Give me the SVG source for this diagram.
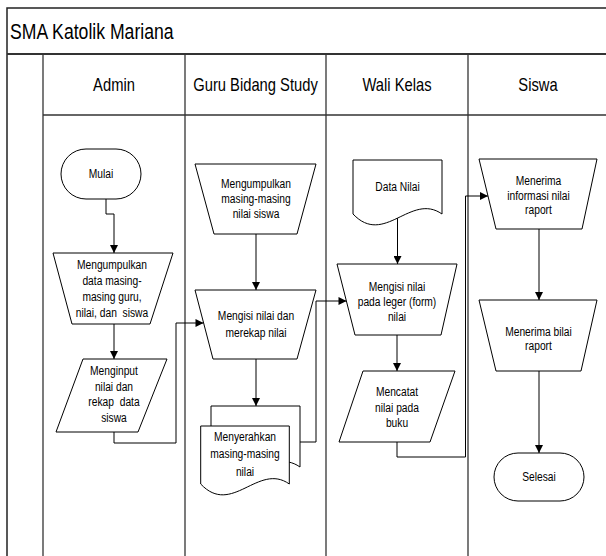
<svg xmlns="http://www.w3.org/2000/svg" width="606" height="556" viewBox="0 0 606 556">
<defs>
<marker id="arr" viewBox="0 0 10 10" refX="10" refY="5" markerWidth="9" markerHeight="8" markerUnits="userSpaceOnUse" orient="auto">
<path d="M0,0 L10,5 L0,10 z" fill="#000"/>
</marker>
<style>
.frame{fill:none;stroke:#222;stroke-width:1.5}
.lane{stroke:#333;stroke-width:1.3;fill:none}
.shape{fill:#fff;stroke:#000;stroke-width:1}
.conn{fill:none;stroke:#000;stroke-width:1;marker-end:url(#arr)}
text{font-family:"Liberation Sans",Arial,sans-serif;fill:#000}
.t{font-size:12.5px;text-anchor:middle}
.h{font-size:18px;text-anchor:middle}
.title{font-size:21.5px}
</style>
</defs>
<rect x="0" y="0" width="606" height="556" fill="#fff"/>

<g id="pool">
<rect class="frame" x="7" y="8" width="610" height="560"/>
<line class="lane" x1="7" y1="54" x2="617" y2="54" style="stroke-width:2"/>
<line class="lane" x1="43" y1="54" x2="43" y2="560"/>
<line class="lane" x1="43" y1="115" x2="617" y2="115"/>
<line class="lane" x1="185" y1="54" x2="185" y2="560"/>
<line class="lane" x1="326" y1="54" x2="326" y2="560"/>
<line class="lane" x1="468" y1="54" x2="468" y2="560"/>
<g transform="translate(10,0) scale(0.82,1)"><text class="title" x="0" y="39">SMA Katolik Mariana</text></g>
<g transform="translate(114,0) scale(0.82,1)"><text class="h" x="0" y="91">Admin</text></g>
<g transform="translate(255.5,0) scale(0.82,1)"><text class="h" x="0" y="91">Guru Bidang Study</text></g>
<g transform="translate(397,0) scale(0.82,1)"><text class="h" x="0" y="91">Wali Kelas</text></g>
<g transform="translate(538,0) scale(0.82,1)"><text class="h" x="0" y="91">Siswa</text></g>
</g>

<g id="connectors">
<path class="conn" d="M106,199 V214 H114 V253"/>
<path class="conn" d="M114,324 V359"/>
<path class="conn" d="M114,432 V443 H176 V323 H203.5"/>
<path class="conn" d="M256,234 V290"/>
<path class="conn" d="M256,359 V406"/>
<path class="conn" d="M300,442 H316 V301 H346.5"/>
<path class="conn" d="M397.5,214 V264"/>
<path class="conn" d="M397,335 V371"/>
<path class="conn" d="M397,442 V457 H465.5 V196 H488"/>
<path class="conn" d="M539,229 V300"/>
<path class="conn" d="M539,371 V453"/>
</g>

<g id="mulai">
<rect class="shape" x="61" y="149" width="80" height="50" rx="25" ry="25"/>
<g transform="translate(101,0) scale(0.82,1)"><text class="t" x="0" y="178.5">Mulai</text></g>
</g>

<g id="mengumpulkan-admin">
<polygon class="shape" points="53,253 173,253 150,324 72,324"/>
<g transform="translate(112,0) scale(0.82,1)">
<text class="t" x="0" y="269">Mengumpulkan</text>
<text class="t" x="0" y="285">data masing-</text>
<text class="t" x="0" y="301">masing guru,</text>
<text class="t" x="0" y="317" xml:space="preserve">nilai, dan  siswa</text>
</g>
</g>

<g id="menginput">
<polygon class="shape" points="83,359 167,359 138,432 56,432"/>
<g transform="translate(114,0) scale(0.82,1)">
<text class="t" x="0" y="375.5">Menginput</text>
<text class="t" x="0" y="391">nilai dan</text>
<text class="t" x="0" y="406.5" xml:space="preserve">rekap  data</text>
<text class="t" x="0" y="422">siswa</text>
</g>
</g>

<g id="mengumpulkan-guru">
<polygon class="shape" points="195,164 316,164 297,234 214,234"/>
<g transform="translate(256,0) scale(0.82,1)">
<text class="t" x="0" y="188.5">Mengumpulkan</text>
<text class="t" x="0" y="203.5">masing-masing</text>
<text class="t" x="0" y="218.5">nilai siswa</text>
</g>
</g>

<g id="mengisi-merekap">
<polygon class="shape" points="195,290 316,290 297,359 213,359"/>
<g transform="translate(256,0) scale(0.82,1)">
<text class="t" x="0" y="320">Mengisi nilai dan</text>
<text class="t" x="0" y="337.5">merekap nilai</text>
</g>
</g>

<g id="menyerahkan">
<path class="shape" d="M211,406 H300 V467 C268.8,445 242.2,500 211,467 Z"/>
<path class="shape" d="M200.7,426 H289.3 V484 C258.3,462 231.7,517 200.7,484 Z"/>
<g transform="translate(245,0) scale(0.82,1)">
<text class="t" x="0" y="441">Menyerahkan</text>
<text class="t" x="0" y="458.5">masing-masing</text>
<text class="t" x="0" y="476">nilai</text>
</g>
</g>

<g id="data-nilai">
<path class="shape" d="M353,160 H442 V214 C410.8,192 384.2,247 353,214 Z"/>
<g transform="translate(397.5,0) scale(0.82,1)"><text class="t" x="0" y="191">Data Nilai</text></g>
</g>

<g id="mengisi-leger">
<polygon class="shape" points="337,264 457,264 441,335 355,335"/>
<g transform="translate(397,0) scale(0.82,1)">
<text class="t" x="0" y="291.5">Mengisi nilai</text>
<text class="t" x="0" y="306.5">pada leger (form)</text>
<text class="t" x="0" y="321.5">nilai</text>
</g>
</g>

<g id="mencatat">
<polygon class="shape" points="363,371 455,371 430,442 339,442"/>
<g transform="translate(397,0) scale(0.82,1)">
<text class="t" x="0" y="396.5">Mencatat</text>
<text class="t" x="0" y="412">nilai pada</text>
<text class="t" x="0" y="427.5">buku</text>
</g>
</g>

<g id="menerima-informasi">
<polygon class="shape" points="479,159 597,159 582,229 496,229"/>
<g transform="translate(538.5,0) scale(0.82,1)">
<text class="t" x="0" y="185.5">Menerima</text>
<text class="t" x="0" y="200">informasi nilai</text>
<text class="t" x="0" y="214.5">raport</text>
</g>
</g>

<g id="menerima-raport">
<polygon class="shape" points="479,300 597,300 581,371 496,371"/>
<g transform="translate(538.5,0) scale(0.82,1)">
<text class="t" x="0" y="336">Menerima bilai</text>
<text class="t" x="0" y="350.5">raport</text>
</g>
</g>

<g id="selesai">
<rect class="shape" x="494" y="453" width="90" height="48" rx="24" ry="24"/>
<g transform="translate(539,0) scale(0.82,1)"><text class="t" x="0" y="481.5">Selesai</text></g>
</g>
</svg>
